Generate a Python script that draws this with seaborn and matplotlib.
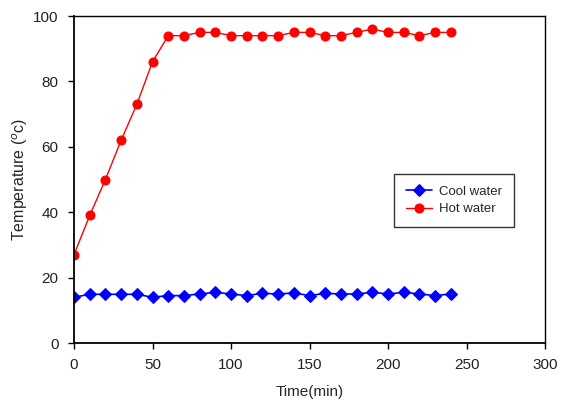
import matplotlib
matplotlib.use("Agg")
import matplotlib.pyplot as plt
import seaborn as sns
import pandas as pd

time_min = [0, 10, 20, 30, 40, 50, 60, 70, 80, 90, 100, 110, 120, 130, 140,
            150, 160, 170, 180, 190, 200, 210, 220, 230, 240]
cool_water = [14.0, 14.9, 14.9, 14.9, 14.9, 14.0, 14.5, 14.5, 15.0, 15.5, 15.0, 14.5, 15.2, 15.0, 15.3,
              14.5, 15.2, 15.0, 15.0, 15.5, 15.0, 15.5, 15.0, 14.5, 15.0]
hot_water = [27, 39, 50, 62, 73, 86, 94, 94, 95, 95, 94, 94, 94, 94, 95,
             95, 94, 94, 95, 96, 95, 95, 94, 95, 95]
x_ticks = [0, 50, 100, 150, 200, 250, 300]
y_ticks = [0, 20, 40, 60, 80, 100]

sns.set_style("white")
plt.rcParams['font.family'] = ['Liberation Sans', 'DejaVu Sans']

df_cool = pd.DataFrame({"t": time_min, "v": cool_water})
df_hot = pd.DataFrame({"t": time_min, "v": hot_water})

fig = plt.figure(figsize=(5.62, 4.01), dpi=100)
ax = fig.add_axes([0.1317, 0.1446, 0.9698 - 0.1317, 0.960 - 0.1446])

sns.lineplot(data=df_cool, x="t", y="v", ax=ax, color="#0000FF", marker="D",
             markersize=6.5, markeredgecolor="#0000FF", linewidth=1.2, label="Cool water")
sns.lineplot(data=df_hot, x="t", y="v", ax=ax, color="#FF0000", marker="o",
             markersize=6.5, markeredgecolor="#FF0000", linewidth=1.0, label="Hot water")

ax.set_xlim(0, 300)
ax.set_ylim(0, 100)
ax.set_xticks(x_ticks)
ax.set_yticks(y_ticks)
ax.tick_params(axis="both", direction="out", length=4, width=1, colors="black",
               labelsize=11, labelcolor="#222222", bottom=True, left=True, pad=7)
for s in ax.spines.values():
    s.set_color("black")
    s.set_linewidth(1.0)
ax.spines['left'].set_linewidth(1.3)
ax.spines['bottom'].set_linewidth(1.3)

ax.set_xlabel("Time(min)", fontsize=11, labelpad=9)
ax.set_ylabel("Temperature ($^{o}$c)", fontsize=11.5, labelpad=2)

leg = ax.legend(loc="center", bbox_to_anchor=(0.806, 0.436), frameon=True,
                fancybox=False, edgecolor="black", fontsize=9.5, handlelength=2.0,
                borderpad=0.9, labelspacing=0.4, handletextpad=0.5)
leg.get_frame().set_linewidth(1.0)

fig.savefig("out.png", dpi=100)
